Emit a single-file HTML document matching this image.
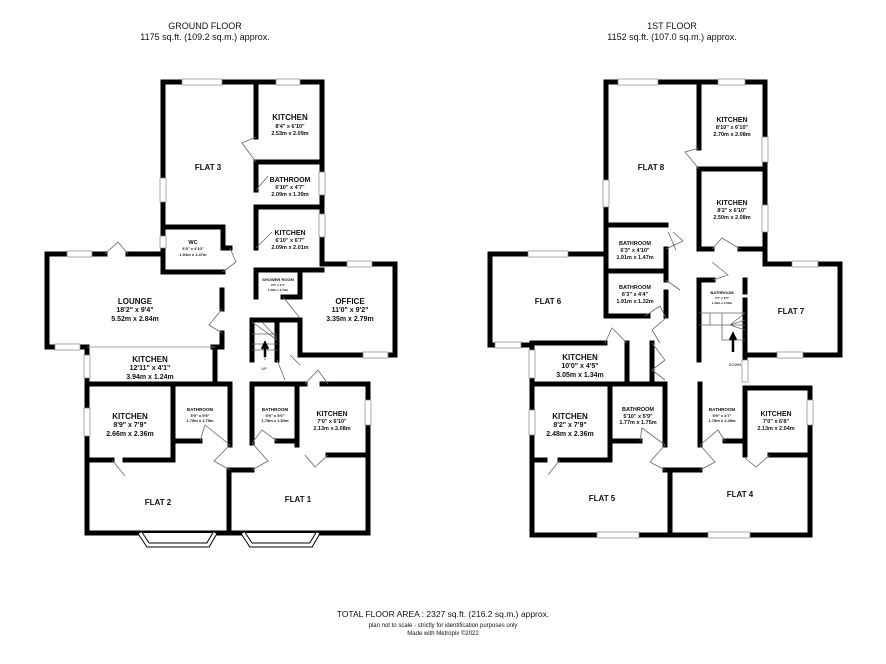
<!DOCTYPE html>
<html><head><meta charset="utf-8"><style>
html,body{margin:0;padding:0;background:#fff;}
svg{display:block;font-family:"Liberation Sans",sans-serif;}
.w{stroke:#000;stroke-width:5;fill:none;stroke-linecap:square;}
.t{stroke:#666;stroke-width:0.8;fill:none;}
.win{fill:#fff;stroke:#888;stroke-width:0.7;}
text{text-anchor:middle;fill:#111;}
.L{font-size:8px;font-weight:bold;}
.M{font-size:7px;font-weight:bold;}
.S{font-size:5.5px;font-weight:bold;}
.X{font-size:4px;font-weight:bold;}
.F{font-size:9px;font-weight:bold;}
</style></head><body>
<svg width="886" height="664" viewBox="0 0 886 664">
<text x="205" y="29" style="font-size:9px">GROUND FLOOR</text>
<text x="205" y="40" style="font-size:9px">1175 sq.ft. (109.2 sq.m.) approx.</text>
<text x="672" y="29" style="font-size:9px">1ST FLOOR</text>
<text x="672" y="40" style="font-size:9px">1152 sq.ft. (107.0 sq.m.) approx.</text>

<!-- GROUND FLOOR WALLS -->
<path class="w" d="M163,227 V82 H322 V264 H395 V355 H300 V320 M300,320 H252 V360"/>
<path class="w" d="M256,82 V137 M256,162 H322 M256,162 V190 M256,207 H322 M256,207 V248 M256,270 H322"/>
<path class="w" d="M163,227 H223 V248 H230 M163,227 V272 H223 M222,290 V309 M222,333 V347 H213"/>
<path class="w" d="M160,254 H128 M105,254 H47 V347 H87 V533 H368 V384 H322 M305,384 H252 V443"/>
<path class="w" d="M215,347 V384 M87,384 H230 V445 M173,384 V460 H125 M112,460 H87 M173,441 H200 M229,470 V533 M229,470 H252"/>
<path class="w" d="M297,384 V445 M277,441 H297 M328,455 H368"/>
<path class="w" d="M256,272 V297 M300,270 V297 H283 M277,320 V360"/>
<!-- ground windows -->
<rect class="win" x="182" y="79" width="40" height="6"/><rect class="win" x="276" y="79" width="24" height="6"/>
<rect class="win" x="160" y="178" width="6" height="24"/><rect class="win" x="160" y="236" width="6" height="12"/>
<rect class="win" x="319" y="172" width="6" height="23"/><rect class="win" x="319" y="214" width="6" height="23"/>
<rect class="win" x="67" y="251" width="25" height="6"/><rect class="win" x="347" y="261" width="25" height="6"/>
<rect class="win" x="363" y="352" width="25" height="6"/><rect class="win" x="55" y="344" width="25" height="6"/>
<rect class="win" x="84" y="355" width="6" height="23"/><rect class="win" x="84" y="408" width="6" height="28"/>
<rect class="win" x="365" y="400" width="6" height="25"/>
<line x1="87" y1="347" x2="215" y2="347" stroke="#888" stroke-width="0.8"/>
<path d="M140,533 L148,545 H208 L215,533" fill="#fff" stroke="#000" stroke-width="5"/>
<path d="M140,533 L148,545 H208 L215,533" fill="none" stroke="#fff" stroke-width="3"/>
<path d="M243,533 L251,545 H311 L318,533" fill="#fff" stroke="#000" stroke-width="5"/>
<path d="M243,533 L251,545 H311 L318,533" fill="none" stroke="#fff" stroke-width="3"/>
<!-- ground doors -->
<path class="t" d="M256,137 L242,143 L256,162 M256,190 L268,176 M105,254 L118,242 L128,254 M222,309 L209,325 L222,333 M223,272 L236,262 L230,248 M256,248 L272,232 M283,297 L300,318 M277,360 L285,380 M300,365 L290,355 M305,384 L318,370 L328,384 M112,460 L125,476 M200,441 L205,425 L230,445 M230,445 L214,461 L230,470 M252,443 L268,461 L252,470 M277,441 L262,430 L252,443 M328,455 L315,467 L305,455"/>
<!-- stairs -->
<path class="t" d="M252,344 H277 M252,334 H277 M265,344 V360 M252,350 H277 M252,322 L277,340 M262,322 L277,338"/>
<path d="M265,357 V346 M262,349 L265,343 L268,349" stroke="#000" stroke-width="2.5" fill="none"/>
<text x="264" y="370" style="font-size:4px">UP</text>

<!-- ground labels -->
<text class="L" x="290" y="120">KITCHEN</text><text class="S" x="290" y="128">8'4"  x 6'10"</text><text class="S" x="290" y="135">2.53m  x 2.09m</text>
<text class="M" x="208" y="170" style="font-size:8px">FLAT 3</text>
<text class="M" x="290" y="182">BATHROOM</text><text class="S" x="290" y="189">6'10"  x 4'7"</text><text class="S" x="290" y="196">2.09m  x 1.39m</text>
<text class="M" x="290" y="235">KITCHEN</text><text class="S" x="290" y="242">6'10"  x 6'7"</text><text class="S" x="290" y="249">2.09m  x 2.01m</text>
<text class="S" x="193" y="244">WC</text><text class="X" x="193" y="250">6'3"  x 4'10"</text><text class="X" x="193" y="256">1.91m  x 1.47m</text>
<text class="X" x="278" y="281">SHOWER ROOM</text><text class="X" x="278" y="286" style="font-size:3px">4'2" x 2'4"</text><text class="X" x="278" y="291" style="font-size:3px">1.28m x 0.73m</text>
<text class="L" x="135" y="304">LOUNGE</text><text class="M" x="135" y="312">18'2"  x 9'4"</text><text class="M" x="135" y="321">5.52m  x 2.84m</text>
<text class="L" x="350" y="304">OFFICE</text><text class="M" x="350" y="312">11'0"  x 9'2"</text><text class="M" x="350" y="321">3.35m  x 2.79m</text>
<text class="L" x="150" y="362">KITCHEN</text><text class="M" x="150" y="370">12'11"  x 4'1"</text><text class="M" x="150" y="379">3.94m  x 1.24m</text>
<text class="L" x="130" y="419">KITCHEN</text><text class="M" x="130" y="427">8'9"  x 7'9"</text><text class="M" x="130" y="436">2.66m  x 2.36m</text>
<text class="X" x="200" y="411" style="font-size:4.5px">BATHROOM</text><text class="X" x="200" y="417">5'9"  x 5'9"</text><text class="X" x="200" y="422">1.75m  x 1.75m</text>
<text class="X" x="275" y="411" style="font-size:4.5px">BATHROOM</text><text class="X" x="275" y="417">5'9"  x 5'0"</text><text class="X" x="275" y="422">1.75m  x 1.52m</text>
<text class="M" x="332" y="416">KITCHEN</text><text class="S" x="332" y="423">7'0"  x 6'10"</text><text class="S" x="332" y="430">2.13m  x 2.08m</text>
<text class="L" x="158" y="505">FLAT 2</text><text class="L" x="298" y="502">FLAT 1</text>

<!-- FIRST FLOOR WALLS -->
<path class="w" d="M606,225 V82 H765 V264 H840 V355 H745"/>
<path class="w" d="M699,82 V148 M699,169 H765 M699,169 V249 H712 M740,249 H765"/>
<path class="w" d="M606,225 H666 M606,225 V316 H648 M606,271 H666 M666,249 V271 M666,271 V280 M666,292 V316"/>
<path class="w" d="M606,254 H490 V345 H532 V535 H810 V388 H745"/>
<path class="w" d="M532,343 H605 M627,343 V384 M652,343 V384 M532,384 H665 V445 M610,384 V460 H560 M545,460 H532 M610,441 H640"/>
<path class="w" d="M670,470 V535 M665,470 H700 M700,384 V445 M745,388 V455 M725,441 H745 M770,455 H810"/>
<path class="w" d="M699,280 V360 M699,280 H713 M745,280 V292 M745,300 V360"/>
<!-- first windows -->
<rect class="win" x="618" y="79" width="40" height="6"/><rect class="win" x="718" y="79" width="27" height="6"/>
<rect class="win" x="603" y="180" width="6" height="27"/><rect class="win" x="762" y="137" width="6" height="25"/>
<rect class="win" x="762" y="205" width="6" height="27"/><rect class="win" x="792" y="261" width="26" height="6"/>
<rect class="win" x="777" y="352" width="26" height="6"/><rect class="win" x="528" y="251" width="40" height="6"/>
<rect class="win" x="495" y="342" width="26" height="6"/><rect class="win" x="529" y="350" width="6" height="28"/>
<rect class="win" x="529" y="410" width="6" height="25"/><rect class="win" x="807" y="400" width="6" height="25"/>
<rect class="win" x="742" y="360" width="6" height="22"/>
<rect class="win" x="597" y="532" width="42" height="6"/><rect class="win" x="708" y="532" width="42" height="6"/>
<!-- first doors -->
<path class="t" d="M699,148 L685,152 L699,169 M712,249 L722,238 L740,249 M668,232 L676,250 M673,232 L683,241 L666,249 M666,280 L680,290 M712,262 L728,275 L713,280 M645,316 L660,306 L666,318 M666,318 L652,330 L660,343 M605,343 L612,328 L627,343 M652,343 L665,360 L652,370 L665,380 M560,460 L548,475 M640,441 L642,428 L665,445 M665,445 L650,462 L665,470 M700,445 L715,462 L700,470 M725,441 L718,430 L700,445 M770,455 L756,467 L745,458"/>
<!-- first stairs -->
<path class="t" d="M699,313 H745 M699,325 H745 M710,313 V325 M722,313 V340 M722,340 H745 M730,325 L745,313 M730,325 L745,320 M730,325 L745,330"/>
<path d="M733,352 V337 M730,340 L733,334 L736,340" stroke="#000" stroke-width="2.5" fill="none"/>
<text x="735" y="366" style="font-size:4px">DOWN</text>

<!-- first labels -->
<text class="M" x="732" y="122">KITCHEN</text><text class="S" x="732" y="129">8'10"  x 6'10"</text><text class="S" x="732" y="136">2.70m  x 2.08m</text>
<text class="L" x="651" y="170">FLAT 8</text>
<text class="M" x="732" y="205">KITCHEN</text><text class="S" x="732" y="212">8'2"  x 6'10"</text><text class="S" x="732" y="219">2.50m  x 2.08m</text>
<text class="S" x="635" y="245">BATHROOM</text><text class="S" x="635" y="252">6'3"  x 4'10"</text><text class="S" x="635" y="259">1.91m  x 1.47m</text>
<text class="S" x="635" y="289">BATHROOM</text><text class="S" x="635" y="296">6'3"  x 4'4"</text><text class="S" x="635" y="303">1.91m  x 1.32m</text>
<text class="X" x="722" y="294">BATHROOM</text><text class="X" x="722" y="299" style="font-size:3px">4'7" x 3'5"</text><text class="X" x="722" y="304" style="font-size:3px">1.40m x 1.03m</text>
<text class="L" x="548" y="304">FLAT 6</text><text class="L" x="791" y="314">FLAT 7</text>
<text class="L" x="580" y="360">KITCHEN</text><text class="M" x="580" y="368">10'0"  x 4'5"</text><text class="M" x="580" y="377">3.05m  x 1.34m</text>
<text class="L" x="570" y="419">KITCHEN</text><text class="M" x="570" y="427">8'2"  x 7'9"</text><text class="M" x="570" y="436">2.48m  x 2.36m</text>
<text class="S" x="638" y="411">BATHROOM</text><text class="S" x="638" y="418">5'10"  x 5'9"</text><text class="S" x="638" y="424">1.77m  x 1.75m</text>
<text class="X" x="722" y="411" style="font-size:4.5px">BATHROOM</text><text class="X" x="722" y="417">5'9"  x 4'7"</text><text class="X" x="722" y="422">1.75m  x 1.40m</text>
<text class="M" x="776" y="416">KITCHEN</text><text class="S" x="776" y="423">7'0"  x 6'8"</text><text class="S" x="776" y="430">2.13m  x 2.04m</text>
<text class="L" x="602" y="501">FLAT 5</text><text class="L" x="740" y="497">FLAT 4</text>

<text x="443" y="617" style="font-size:8.5px">TOTAL FLOOR AREA : 2327 sq.ft. (216.2 sq.m.) approx.</text>
<text x="443" y="627" style="font-size:6px">plan not to scale - strictly for identification purposes only</text>
<text x="443" y="635" style="font-size:6px">Made with Metropix ©2022</text>
</svg>
</body></html>
